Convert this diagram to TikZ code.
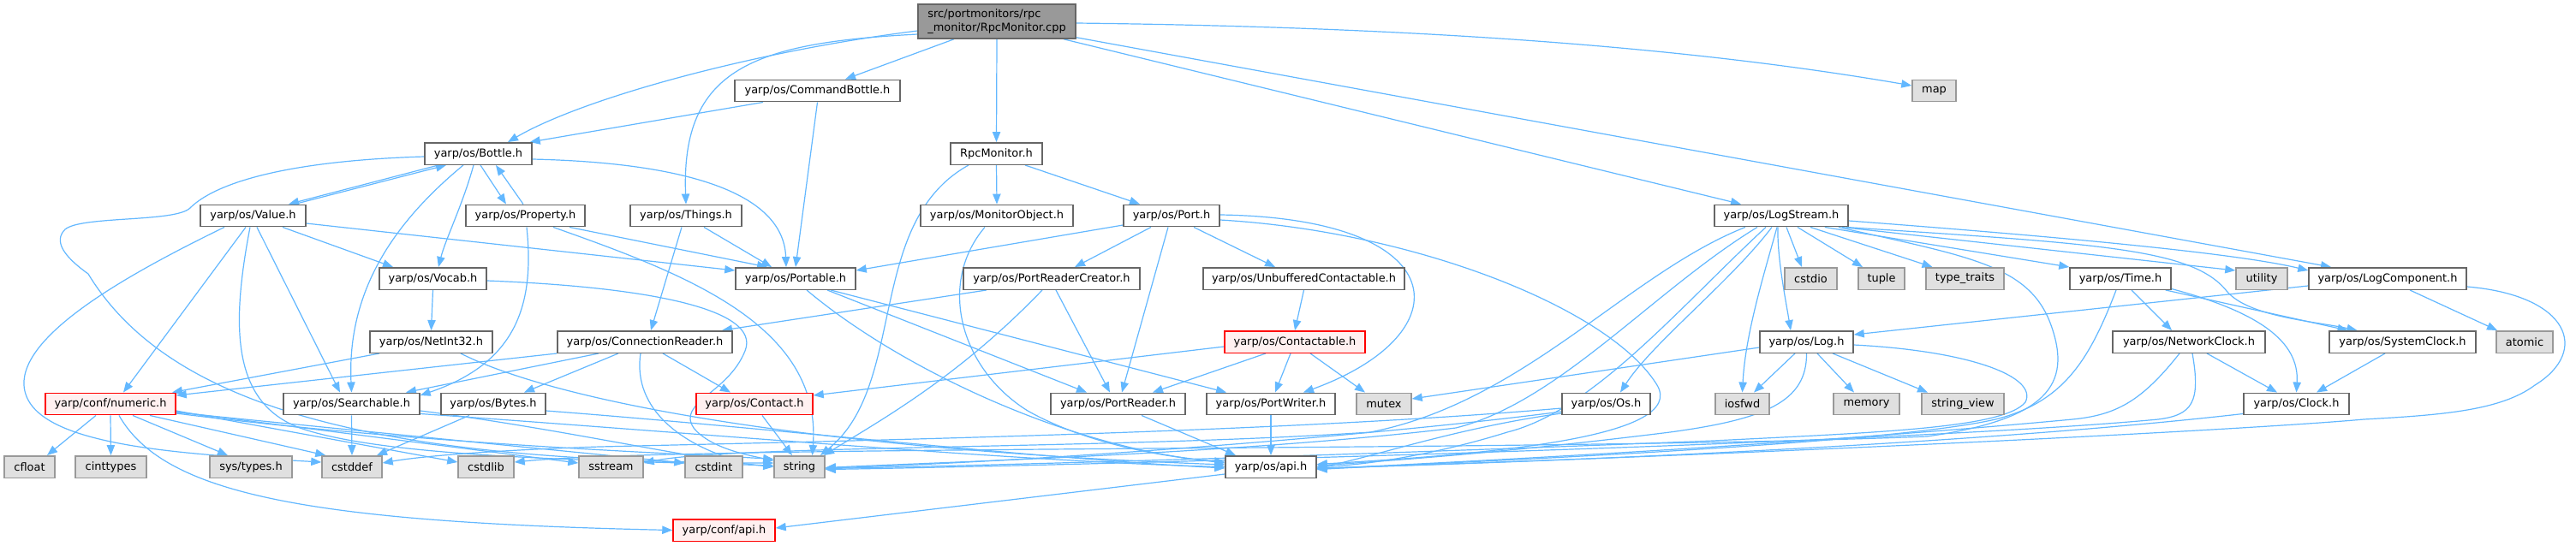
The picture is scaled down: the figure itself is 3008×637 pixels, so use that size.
\documentclass[tikz,border=0pt]{standalone}
\usepackage{fontspec}
\setmainfont{DejaVu Sans}
\usetikzlibrary{arrows.meta,backgrounds}
\definecolor{edgeblue}{HTML}{63B8FF}
\definecolor{boxborder}{HTML}{666666}
\definecolor{extborder}{HTML}{999999}
\definecolor{extfill}{HTML}{E0E0E0}
\definecolor{redborder}{HTML}{FF0000}
\definecolor{redfill}{HTML}{FFF0F0}
\definecolor{mainfill}{HTML}{999999}
\begin{document}
\begin{tikzpicture}[x=0.75pt,y=-0.75pt,
  every node/.style={font=\fontsize{9.7}{11.5}\selectfont, inner sep=0pt, minimum height=19.1pt, line width=1.1pt},
  bw/.style={minimum width=#1*0.75pt},
  box/.style={draw=boxborder, fill=white},
  ext/.style={draw=extborder, fill=extfill},
  redbox/.style={draw=redborder, fill=redfill},
  mainbox/.style={draw=boxborder, fill=mainfill},
  conn/.style={draw=edgeblue, line width=0.9pt, -{Triangle[length=9pt,width=7pt]}}]
\useasboundingbox (0,0) rectangle (3008,637);
% ---------------- nodes ----------------
\node[mainbox, bw=184, minimum height=30pt, align=left] (main) at (1164,25) {src/portmonitors/rpc\\\_monitor/RpcMonitor.cpp};
\node[box, bw=193] (cmdb) at (954.5,106) {yarp/os/CommandBottle.h};
\node[ext, bw=51] (map) at (2258.5,106) {map};
\node[box, bw=125] (bottle) at (558.5,179.5) {yarp/os/Bottle.h};
\node[box, bw=107] (rpcm) at (1163.5,179.5) {RpcMonitor.h};
\node[box, bw=123] (value) at (295.5,252) {yarp/os/Value.h};
\node[box, bw=139] (prop) at (613.5,252) {yarp/os/Property.h};
\node[box, bw=130] (things) at (801,252) {yarp/os/Things.h};
\node[box, bw=178] (monobj) at (1164,252) {yarp/os/MonitorObject.h};
\node[box, bw=112] (port) at (1368,252) {yarp/os/Port.h};
\node[box, bw=156] (logstr) at (2080,252) {yarp/os/LogStream.h};
\node[box, bw=125] (vocab) at (505.5,325.5) {yarp/os/Vocab.h};
\node[box, bw=140] (portable) at (929,325.5) {yarp/os/Portable.h};
\node[box, bw=206] (prc) at (1228,325.5) {yarp/os/PortReaderCreator.h};
\node[box, bw=235] (unbuf) at (1522.5,325.5) {yarp/os/UnbufferedContactable.h};
\node[ext, bw=61] (cstdio) at (2114.5,325.5) {cstdio};
\node[ext, bw=54] (tuple) at (2197,325.5) {tuple};
\node[ext, bw=91] (typetr) at (2294.5,325.5) {type\_traits};
\node[box, bw=118] (time) at (2476,325.5) {yarp/os/Time.h};
\node[ext, bw=60] (utility) at (2641,325.5) {utility};
\node[box, bw=184] (logcomp) at (2788,325.5) {yarp/os/LogComponent.h};
\node[box, bw=143] (netint) at (503.5,399.5) {yarp/os/NetInt32.h};
\node[box, bw=204] (connr) at (753,399.5) {yarp/os/ConnectionReader.h};
\node[redbox, bw=164] (contactable) at (1512,399.5) {yarp/os/Contactable.h};
\node[box, bw=109] (log) at (2109.5,399.5) {yarp/os/Log.h};
\node[box, bw=178] (netclk) at (2556,399.5) {yarp/os/NetworkClock.h};
\node[box, bw=171] (sysclk) at (2805.5,399.5) {yarp/os/SystemClock.h};
\node[ext, bw=66] (atomic) at (2948,399.5) {atomic};
\node[redbox, bw=152] (numeric) at (129,472) {yarp/conf/numeric.h};
\node[box, bw=159] (search) at (410.5,472) {yarp/os/Searchable.h};
\node[box, bw=122] (bytes) at (576,472) {yarp/os/Bytes.h};
\node[redbox, bw=136] (contact) at (881,472) {yarp/os/Contact.h};
\node[box, bw=157] (preader) at (1305.5,472) {yarp/os/PortReader.h};
\node[box, bw=150] (pwriter) at (1484,472) {yarp/os/PortWriter.h};
\node[ext, bw=64] (mutex) at (1616,472) {mutex};
\node[box, bw=103] (os) at (1875.5,472) {yarp/os/Os.h};
\node[ext, bw=63] (iosfwd) at (2034.5,472) {iosfwd};
\node[ext, bw=77] (memory) at (2179.5,472) {memory};
\node[ext, bw=96] (strview) at (2292,472) {string\_view};
\node[box, bw=123] (clock) at (2681.5,472) {yarp/os/Clock.h};
\node[ext, bw=59] (cfloat) at (34.5,545.5) {cfloat};
\node[ext, bw=83] (cinttypes) at (129.5,545.5) {cinttypes};
\node[ext, bw=96] (systypes) at (293,545.5) {sys/types.h};
\node[ext, bw=70] (cstddef) at (411,545.5) {cstddef};
\node[ext, bw=65] (cstdlib) at (567.5,545.5) {cstdlib};
\node[ext, bw=75] (sstream) at (713.5,545.5) {sstream};
\node[ext, bw=67] (cstdint) at (833.5,545.5) {cstdint};
\node[ext, bw=59] (nstring) at (933.5,545.5) {string};
\node[box, bw=106] (osapi) at (1484,545.5) {yarp/os/api.h};
\node[redbox, bw=119] (confapi) at (845.5,619.5) {yarp/conf/api.h};
% ---------------- edges ----------------
\begin{scope}[on background layer]
\fill[white] (0,0) rectangle (3008,637);
% main
\draw[conn] ([shift={(-50,0)}]main.south) -- ([shift={(32.5,0)}]cmdb.north);
\draw[conn] ([shift={(0,11)}]main.west) .. controls (880,60) and (680,115) .. ([shift={(34.5,0)}]bottle.north);
\draw[conn] ([shift={(0,15)}]main.west) .. controls (880,50) and (795,80) .. (things.north);
\draw[conn] (main.south) -- (rpcm.north);
\draw[conn] ([shift={(0,2)}]main.east) .. controls (1700,32) and (2000,60) .. ([shift={(0,-6)}]map.west);
\draw[conn] ([shift={(78,0)}]main.south) -- ([shift={(-47,0)}]logstr.north);
\draw[conn] ([shift={(0,-2)}]main.south east) -- ([shift={(-66,0)}]logcomp.north);
% CommandBottle
\draw[conn] ([shift={(-63.5,0)}]cmdb.south) -- ([shift={(-3,0)}]bottle.north east);
\draw[conn] (cmdb.south) -- (portable.north);
% RpcMonitor
\draw[conn] (rpcm.south) -- (monobj.north);
\draw[conn] ([shift={(33.5,0)}]rpcm.south) -- ([shift={(-37,0)}]port.north);
\draw[conn] ([shift={(-32.5,0)}]rpcm.south) .. controls (1010,260) and (1060,450) .. ([shift={(24.5,0)}]nstring.north);
% Bottle
\draw[conn] ([shift={(-46.5,0)}]bottle.south) -- ([shift={(41.5,0)}]value.north);
\draw[conn] ([shift={(48.5,0)}]value.north) -- ([shift={(-37.5,0)}]bottle.south);
\draw[conn] ([shift={(2.5,0)}]bottle.south) -- ([shift={(-22.5,0)}]prop.north);
\draw[conn] ([shift={(-2.5,0)}]prop.north) -- ([shift={(20.5,0)}]bottle.south);
\draw[conn] ([shift={(-5.5,0)}]bottle.south) .. controls (540,240) and (520,280) .. ([shift={(6.5,0)}]vocab.north);
\draw[conn] ([shift={(-17.5,0)}]bottle.south) .. controls (460,260) and (405,340) .. (search.north);
\draw[conn] ([shift={(0,6.5)}]bottle.east) .. controls (800,190) and (915,225) .. ([shift={(-11,0)}]portable.north);
\draw[conn] ([shift={(0,3.5)}]bottle.west) .. controls (330,188) and (250,215) .. (222,243) .. controls (205,260) and (95,252) .. (76,268) .. controls (62,282) and (75,300) .. (103,320) .. controls (200,480) and (450,540) .. ([shift={(0,-4.5)}]nstring.west);
% Value
\draw[conn] ([shift={(-33.5,0)}]value.south) .. controls (150,320) and (25,390) .. (28,450) .. controls (32,520) and (200,530) .. ([shift={(0,-5.5)}]cstddef.west);
\draw[conn] ([shift={(-8.5,0)}]value.south) -- ([shift={(15,0)}]numeric.north);
\draw[conn] ([shift={(-3.5,0)}]value.south) .. controls (270,380) and (270,470) .. (350,500) .. controls (450,535) and (700,538) .. ([shift={(0,-1.5)}]nstring.west);
\draw[conn] ([shift={(4.5,0)}]value.south) -- ([shift={(-13.5,0)}]search.north);
\draw[conn] ([shift={(34.5,0)}]value.south) -- ([shift={(-46.5,0)}]vocab.north);
\draw[conn] ([shift={(0,9)}]value.east) -- ([shift={(0,-9.5)}]portable.west);
% Property
\draw[conn] ([shift={(51.5,0)}]prop.south) -- ([shift={(-33,0)}]portable.north);
\draw[conn] ([shift={(1.5,0)}]prop.south) .. controls (625,360) and (600,425) .. ([shift={(0,-10)}]search.east);
\draw[conn] ([shift={(32.5,0)}]prop.south) .. controls (800,320) and (960,380) .. ([shift={(15,0)}]nstring.north);
% Vocab
\draw[conn] (vocab.south) -- (netint.north);
\draw[conn] ([shift={(0,2.5)}]vocab.east) .. controls (750,335) and (890,360) .. (870,410) .. controls (850,460) and (790,470) .. (810,500) .. controls (830,525) and (880,533) .. ([shift={(0,-7)}]nstring.west);
% NetInt32
\draw[conn] ([shift={(-60.5,0)}]netint.south) -- ([shift={(72,0)}]numeric.north);
\draw[conn] ([shift={(34.5,0)}]netint.south) .. controls (650,470) and (950,525) .. ([shift={(0,-2.5)}]osapi.west);
% Things
\draw[conn] ([shift={(-5,0)}]things.south) -- ([shift={(7,0)}]connr.north);
\draw[conn] ([shift={(21,0)}]things.south) -- ([shift={(-28,0)}]portable.north);
% Portable
\draw[conn] ([shift={(13,0)}]portable.south) .. controls (1050,430) and (1250,525) .. ([shift={(0,-5.5)}]osapi.west);
\draw[conn] ([shift={(37,0)}]portable.south) -- ([shift={(-36.5,0)}]preader.north);
\draw[conn] ([shift={(41,0)}]portable.south) -- ([shift={(-52,0)}]pwriter.north);
% PortReaderCreator
\draw[conn] ([shift={(-76,0)}]prc.south) -- ([shift={(90,0)}]connr.north);
\draw[conn] ([shift={(-11,0)}]prc.south) .. controls (1120,440) and (1030,490) .. ([shift={(28.5,0)}]nstring.north);
\draw[conn] ([shift={(5,0)}]prc.south) -- ([shift={(-9.5,0)}]preader.north);
% Port
\draw[conn] ([shift={(0,11)}]port.west) -- ([shift={(0,-9.5)}]portable.east);
\draw[conn] ([shift={(-24,0)}]port.south) -- ([shift={(27,0)}]prc.north);
\draw[conn] ([shift={(-4,0)}]port.south) -- ([shift={(4.5,0)}]preader.north);
\draw[conn] ([shift={(26,0)}]port.south) -- ([shift={(-33.5,0)}]unbuf.north);
\draw[conn] ([shift={(0,-1)}]port.east) .. controls (1700,255) and (1710,390) .. ([shift={(38,0)}]pwriter.north);
\draw[conn] ([shift={(0,5)}]port.east) .. controls (1650,270) and (1880,360) .. (1935,450) .. controls (1970,510) and (1750,530) .. ([shift={(0,-3)}]osapi.east);
% MonitorObject
\draw[conn] ([shift={(-14,0)}]monobj.south) .. controls (1095,330) and (1120,430) .. (1200,480) .. controls (1280,525) and (1380,535) .. ([shift={(0,-4.5)}]osapi.west);
% Unbuffered / Contactable
\draw[conn] (unbuf.south) -- (contactable.north);
\draw[conn] ([shift={(0,5.5)}]contactable.west) -- ([shift={(0,-10)}]contact.east);
\draw[conn] ([shift={(-34,0)}]contactable.south) -- ([shift={(40.5,0)}]preader.north);
\draw[conn] ([shift={(-5,0)}]contactable.south) -- ([shift={(5,0)}]pwriter.north);
\draw[conn] ([shift={(18,0)}]contactable.south) -- ([shift={(-22,0)}]mutex.north);
% ConnectionReader
\draw[conn] (connr.south west) -- ([shift={(0,-10)}]numeric.east);
\draw[conn] ([shift={(-54,0)}]connr.south) -- ([shift={(63.5,0)}]search.north);
\draw[conn] ([shift={(-31,0)}]connr.south) -- ([shift={(36,0)}]bytes.north);
\draw[conn] ([shift={(21,0)}]connr.south) -- ([shift={(-28,0)}]contact.north);
\draw[conn] ([shift={(-5,0)}]connr.south) .. controls (738,480) and (800,520) .. ([shift={(0,-5.5)}]cstdint.east);
% Searchable
\draw[conn] (search.south) -- (cstddef.north);
\draw[conn] ([shift={(0,-2)}]search.south east) .. controls (800,505) and (1200,540) .. (osapi.west);
\draw[conn] ([shift={(0,8)}]search.east) .. controls (650,500) and (800,535) .. (nstring.west);
% Bytes
\draw[conn] ([shift={(-28,0)}]bytes.south) -- ([shift={(29,0)}]cstddef.north);
\draw[conn] ([shift={(0,8)}]bytes.east) .. controls (900,500) and (1200,535) .. ([shift={(0,1.5)}]osapi.west);
% numeric
\draw[conn] ([shift={(-17,0)}]numeric.south) -- ([shift={(20.5,0)}]cfloat.north);
\draw[conn] (numeric.south) -- (cinttypes.north);
\draw[conn] ([shift={(10,0)}]numeric.south) .. controls (190,575) and (350,610) .. (confapi.west);
\draw[conn] ([shift={(26,0)}]numeric.south) -- ([shift={(-27,0)}]systypes.north);
\draw[conn] ([shift={(46,0)}]numeric.south) -- ([shift={(5,0)}]cstddef.north west);
\draw[conn] ([shift={(0,8)}]numeric.east) -- ([shift={(0,-5.5)}]cstdlib.west);
\draw[conn] ([shift={(0,9)}]numeric.east) -- ([shift={(0,-4.5)}]sstream.west);
\draw[conn] ([shift={(0,10)}]numeric.east) -- ([shift={(0,-4.5)}]cstdint.west);
\draw[conn] ([shift={(0,11)}]numeric.east) .. controls (500,520) and (800,530) .. ([shift={(0,-9)}]nstring.west);
% Contact, PortReader, PortWriter, api
\draw[conn] ([shift={(9,0)}]contact.south) -- ([shift={(-8.5,0)}]nstring.north);
\draw[conn] ([shift={(27.5,0)}]preader.south) -- ([shift={(-41,0)}]osapi.north);
\draw[conn] (pwriter.south) -- (osapi.north);
\draw[conn] ([shift={(0,-5)}]osapi.south west) -- ([shift={(0,-2.5)}]confapi.east);
% LogStream
\draw[conn] ([shift={(6,0)}]logstr.south) -- ([shift={(-10.5,0)}]cstdio.north);
\draw[conn] ([shift={(19,0)}]logstr.south) -- ([shift={(-22,0)}]tuple.north);
\draw[conn] ([shift={(34,0)}]logstr.south) -- ([shift={(-38,0)}]typetr.north);
\draw[conn] ([shift={(-28,0)}]logstr.south east) -- (time.north west);
\draw[conn] ([shift={(-8,0)}]logstr.south east) -- ([shift={(0,-9.5)}]utility.west);
\draw[conn] ([shift={(0,6)}]logstr.east) .. controls (2450,280) and (2620,298) .. ([shift={(0,-9.5)}]logcomp.west);
\draw[conn] ([shift={(-3,0)}]logstr.south east) .. controls (2450,285) and (2560,290) .. (2600,340) .. controls (2625,370) and (2700,375) .. ([shift={(-53,0)}]sysclk.north);
\draw[conn] ([shift={(-4,0)}]logstr.south) .. controls (2075,300) and (2085,350) .. ([shift={(-18.5,0)}]log.north);
\draw[conn] ([shift={(-5,0)}]logstr.south) .. controls (2060,320) and (2038,390) .. (iosfwd.north);
\draw[conn] ([shift={(-11,0)}]logstr.south) .. controls (2020,330) and (1930,400) .. ([shift={(16.5,0)}]os.north);
\draw[conn] ([shift={(-42,0)}]logstr.south) .. controls (1900,320) and (1780,470) .. (1600,505) .. controls (1300,525) and (850,520) .. ([shift={(0,-4.5)}]sstream.east);
\draw[conn] ([shift={(-28,0)}]logstr.south) .. controls (1930,340) and (1820,470) .. (1700,500) .. controls (1450,530) and (1100,540) .. ([shift={(0,1)}]nstring.east);
\draw[conn] ([shift={(-18,0)}]logstr.south) .. controls (1960,360) and (1860,480) .. (1760,505) .. controls (1680,530) and (1600,543) .. (osapi.east);
\draw[conn] ([shift={(-12,0)}]logstr.south east) .. controls (2300,300) and (2370,310) .. (2395,380) .. controls (2420,450) and (2390,490) .. (2250,510) .. controls (1800,528) and (800,520) .. ([shift={(0,-5.5)}]cstdlib.east);
% Log
\draw[conn] ([shift={(0,6.5)}]log.west) -- ([shift={(0,-6)}]mutex.east);
\draw[conn] ([shift={(-13.5,0)}]log.south) -- ([shift={(13.5,0)}]iosfwd.north);
\draw[conn] ([shift={(12.5,0)}]log.south) -- ([shift={(-14.5,0)}]memory.north);
\draw[conn] ([shift={(30.5,0)}]log.south) -- ([shift={(-41,0)}]strview.north);
\draw[conn] (log.south) .. controls (2110,470) and (2060,490) .. (1950,505) .. controls (1750,530) and (1600,540) .. ([shift={(0,-1.5)}]osapi.east);
\draw[conn] ([shift={(0,3.5)}]log.east) .. controls (2300,410) and (2380,440) .. (2365,470) .. controls (2340,500) and (2200,505) .. (2000,515) .. controls (1500,535) and (1100,545) .. ([shift={(0,2)}]nstring.east);
% LogComponent
\draw[conn] ([shift={(0,-5)}]logcomp.south west) -- ([shift={(0,-8.5)}]log.east);
\draw[conn] ([shift={(26,0)}]logcomp.south) -- ([shift={(-32,0)}]atomic.north);
\draw[conn] ([shift={(0,9.5)}]logcomp.east) .. controls (3000,345) and (3025,410) .. (2960,450) .. controls (2920,480) and (2850,485) .. (2760,490) .. controls (2650,500) and (2200,525) .. ([shift={(0,2)}]osapi.east);
% Time
\draw[conn] ([shift={(13,0)}]time.south) -- ([shift={(-20,0)}]netclk.north);
\draw[conn] ([shift={(-7,0)}]time.south east) -- ([shift={(-64,0)}]sysclk.north);
\draw[conn] ([shift={(-2,-2)}]time.south east) .. controls (2640,365) and (2685,400) .. (clock.north);
\draw[conn] ([shift={(-5,0)}]time.south) .. controls (2440,420) and (2410,470) .. (2330,490) .. controls (2200,520) and (1700,540) .. ([shift={(0,3)}]osapi.east);
% NetworkClock, SystemClock, Clock
\draw[conn] ([shift={(21,0)}]netclk.south) -- ([shift={(-22.5,0)}]clock.north);
\draw[conn] ([shift={(-11,0)}]netclk.south) .. controls (2500,470) and (2470,485) .. (2420,490) .. controls (2100,520) and (1700,540) .. ([shift={(0,2.5)}]osapi.east);
\draw[conn] ([shift={(4,0)}]netclk.south) .. controls (2570,470) and (2560,485) .. (2520,490) .. controls (2200,520) and (1200,545) .. ([shift={(0,3)}]nstring.east);
\draw[conn] ([shift={(-20.5,0)}]sysclk.south) -- ([shift={(23.5,0)}]clock.north);
\draw[conn] ([shift={(0,-2)}]clock.south west) .. controls (2300,520) and (1800,540) .. ([shift={(0,1.5)}]osapi.east);
% Os
\draw[conn] ([shift={(0,5)}]os.west) .. controls (1500,505) and (1000,515) .. (700,522) .. controls (550,527) and (480,535) .. ([shift={(0,-4.5)}]cstddef.east);
\draw[conn] ([shift={(0,11)}]os.west) .. controls (1700,500) and (1600,535) .. ([shift={(0,1)}]osapi.east);
\draw[conn] ([shift={(0,9)}]os.west) .. controls (1600,510) and (1200,540) .. ([shift={(0,1.5)}]nstring.east);
\end{scope}
\end{tikzpicture}
\end{document}
